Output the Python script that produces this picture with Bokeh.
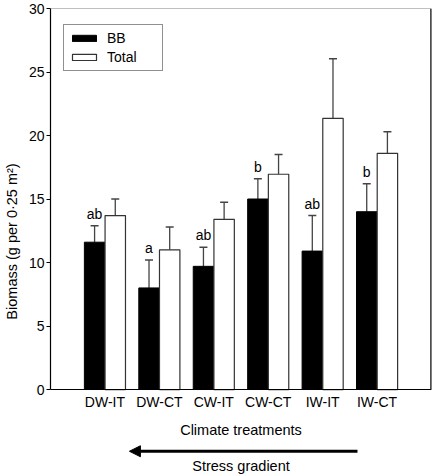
from bokeh.plotting import figure
from bokeh.models import (ColumnDataSource, Whisker, TeeHead, Legend, LegendItem,
                          Span, Arrow, NormalHead, Label, FixedTicker)
from bokeh.core.properties import value
from bokeh.embed import file_html
from bokeh.resources import INLINE

# ---- data ----
treatments = ["DW-IT", "DW-CT", "CW-IT", "CW-CT", "IW-IT", "IW-CT"]
bb_mean = [11.6, 8.0, 9.7, 15.0, 10.9, 14.0]
bb_err = [1.3, 2.2, 1.5, 1.6, 2.8, 2.2]
total_mean = [13.7, 11.0, 13.4, 16.95, 21.35, 18.6]
total_err = [1.3, 1.8, 1.35, 1.55, 4.7, 1.7]
letters = ["ab", "a", "ab", "b", "ab", "b"]
y_ticks = [0, 5, 10, 15, 20, 25, 30]

FONT = "Liberation Sans"
pos = [i + 1 for i in range(len(treatments))]
off = 0.19
bw = 0.375
X_END = len(treatments) + 1

bb_src = ColumnDataSource(dict(
    x=[p_ - off for p_ in pos], top=bb_mean,
    upper=[m + e for m, e in zip(bb_mean, bb_err)], letter=letters))
tot_src = ColumnDataSource(dict(
    x=[p_ + off for p_ in pos], top=total_mean,
    upper=[m + e for m, e in zip(total_mean, total_err)]))

# y range extends below zero so the texts/arrow under the axis can be drawn
p = figure(frame_width=381, frame_height=466,
           x_range=(0, X_END), y_range=(-6.69, y_ticks[-1]),
           output_backend="svg", toolbar_location=None,
           min_border_left=50, min_border_right=1, min_border_top=8,
           min_border_bottom=0)
p.outline_line_color = None
p.xgrid.visible = False
p.ygrid.visible = False
p.background_fill_color = "white"

# error bars (upper only)
for src in (bb_src, tot_src):
    w = Whisker(source=src, base="x", lower="top", upper="upper",
                line_color="#444444", line_width=1.3,
                upper_head=TeeHead(size=8, line_color="#444444", line_width=1.5),
                lower_head=None)
    p.add_layout(w)

r_bb = p.vbar(x="x", top="top", width=bw, source=bb_src,
              fill_color="black", line_color="black", line_width=1)
r_tot = p.vbar(x="x", top="top", width=bw, source=tot_src,
               fill_color="white", line_color="#333333", line_width=1.2)

p.text(x="x", y="upper", text="letter", source=bb_src,
       text_font=value(FONT), text_font_size="14px", text_align="center",
       text_baseline="bottom", y_offset=-4, text_color="black")

# frame: top line (grey) and right line (black)
p.add_layout(Span(location=y_ticks[-1], dimension="width",
                  line_color="#808080", line_width=1.2))
p.segment(x0=[X_END], y0=[y_ticks[0]], x1=[X_END], y1=[y_ticks[-1]],
          line_color="black", line_width=2.4)

# y axis (left)
ya = p.left[0]
ya.bounds = (y_ticks[0], y_ticks[-1])
ya.ticker = FixedTicker(ticks=y_ticks)
ya.minor_tick_line_color = None
ya.major_tick_in = 0
ya.major_tick_out = 4
ya.major_label_standoff = 2
ya.axis_label = "Biomass (g per 0·25 m²)"
ya.axis_label_standoff = 6
ya.major_tick_line_color = "black"

# x axis pinned at y = 0
xa = p.below[0]
xa.fixed_location = 0
xa.ticker = FixedTicker(ticks=pos)
xa.major_label_overrides = {p_: t for p_, t in zip(pos, treatments)}
xa.major_tick_line_color = None
xa.minor_tick_line_color = None
xa.major_tick_out = 0
xa.major_tick_in = 0
xa.major_label_standoff = 4
xa.axis_label = "Climate treatments"
xa.axis_label_standoff = 9

for ax in (xa, ya):
    ax.axis_line_color = "black"
    ax.axis_line_width = 1.2
    ax.major_label_text_font = FONT
    ax.major_label_text_font_size = "14px"
    ax.major_label_text_color = "black"
    ax.axis_label_text_font = FONT
    ax.axis_label_text_font_size = "14.5px"
    ax.axis_label_text_font_style = "normal"
    ax.axis_label_text_color = "black"

# stress gradient arrow + label below the axis
p.add_layout(Arrow(x_start=5.64, y_start=-4.86, x_end=1.45, y_end=-4.86,
                   line_width=3, line_color="black",
                   end=NormalHead(size=11, fill_color="black", line_color="black")))
p.add_layout(Label(x=3.5, y=-6.06, text="Stress gradient", text_align="center",
                   text_baseline="middle", text_font=FONT,
                   text_font_size="14.5px", text_color="black"))

legend = Legend(items=[LegendItem(label="BB", renderers=[r_bb]),
                       LegendItem(label="Total", renderers=[r_tot])],
                location=(13, 403), glyph_width=30, glyph_height=8,
                label_height=15, label_width=50, label_standoff=8,
                spacing=3, padding=5, margin=0,
                border_line_color="#222222", border_line_width=1.2,
                label_text_font=FONT, label_text_font_size="14px",
                label_text_color="black", background_fill_alpha=1)
p.add_layout(legend)

open("out.html", "w").write(file_html(p, INLINE))
